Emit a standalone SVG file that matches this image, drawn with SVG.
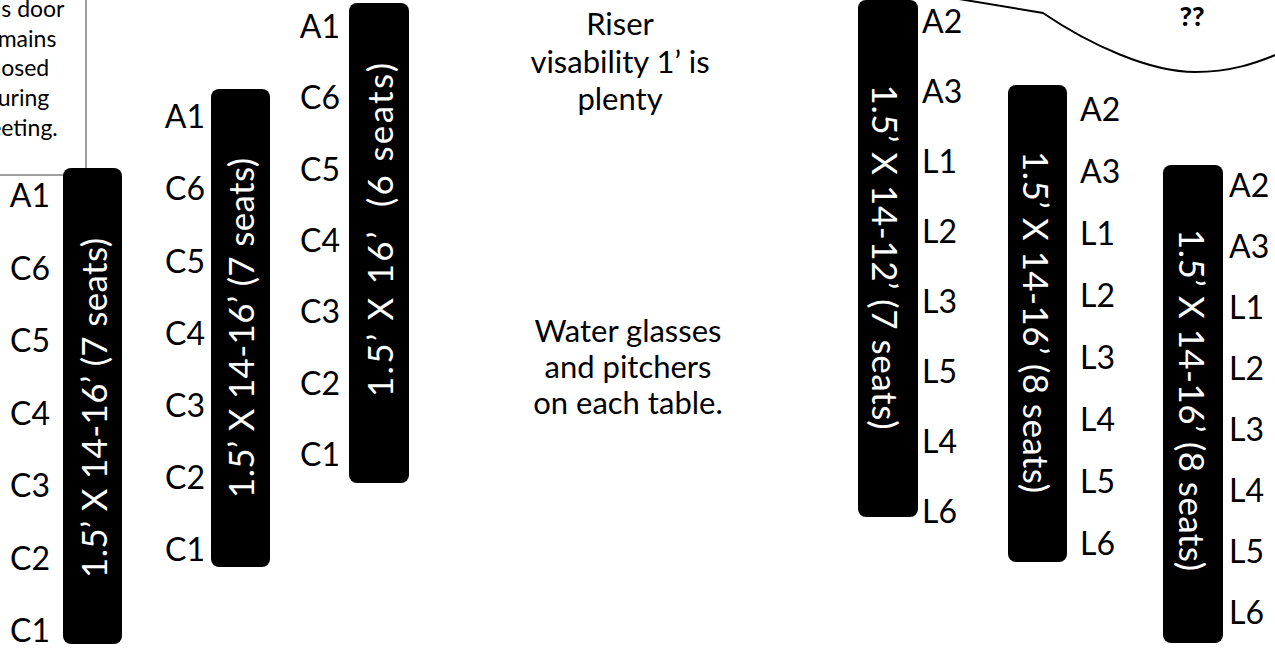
<svg xmlns="http://www.w3.org/2000/svg" width="1275" height="648" viewBox="0 0 1275 648">
<style>
.tbl{fill:#000}
.lbl{font-family:Lato,"Liberation Sans",sans-serif;font-size:32px;fill:#000}
.l{text-anchor:end}
.r{text-anchor:start}
.tt{font-family:Lato,"Liberation Sans",sans-serif;font-size:35px;fill:#fff;text-anchor:middle;dominant-baseline:central}
.note{font-family:Lato,"Liberation Sans",sans-serif;font-size:31px;fill:#000;text-anchor:middle}
.box{font-family:Lato,"Liberation Sans",sans-serif;font-size:23px;fill:#000;text-anchor:middle}
.q{font-family:Lato,"Liberation Sans",sans-serif;font-size:27px;font-weight:900;fill:#000;text-anchor:middle}
</style>
<rect width="1275" height="648" fill="#fff"/>
<g id="door-note">
<rect x="-10" y="-10" width="96" height="185" fill="#fff" stroke="#7f7f7f" stroke-width="1.5"/>
<text class="box" x="17" y="17">This door</text>
<text class="box" x="17" y="46.5">remains</text>
<text class="box" x="17" y="76">closed</text>
<text class="box" x="17" y="105.5">during</text>
<text class="box" x="14" y="136">meeting.</text>
</g>
<g id="callout">
<path d="M935,-5 L1043,13 C1090,45 1150,72 1195,72 C1230,72 1255,64 1285,51 L1285,-10 L935,-10 Z" fill="#fff" stroke="none"/>
<path d="M935,-5 L1043,13 C1090,45 1150,72 1195,72 C1230,72 1255,64 1285,51" fill="none" stroke="#000" stroke-width="2"/>
<text class="q" x="1192" y="26">??</text>
</g>
<g id="table1">
<rect class="tbl" x="63" y="168" width="59" height="476" rx="8"/>
<text class="tt" transform="translate(93 408) rotate(-90)" textLength="340">1.5’ X 14-16’ (7 seats)</text>
<text class="lbl l" x="50" y="207">A1</text>
<text class="lbl l" x="50" y="279.5">C6</text>
<text class="lbl l" x="50" y="352">C5</text>
<text class="lbl l" x="50" y="424.5">C4</text>
<text class="lbl l" x="50" y="497">C3</text>
<text class="lbl l" x="50" y="569.5">C2</text>
<text class="lbl l" x="50" y="642">C1</text>
</g>
<g id="table2">
<rect class="tbl" x="211" y="89" width="59" height="478" rx="8"/>
<text class="tt" transform="translate(240 328) rotate(-90)" textLength="340">1.5’ X 14-16’ (7 seats)</text>
<text class="lbl l" x="205" y="128">A1</text>
<text class="lbl l" x="205" y="200">C6</text>
<text class="lbl l" x="205" y="272.5">C5</text>
<text class="lbl l" x="205" y="344.5">C4</text>
<text class="lbl l" x="205" y="417">C3</text>
<text class="lbl l" x="205" y="489">C2</text>
<text class="lbl l" x="205" y="561">C1</text>
</g>
<g id="table3">
<rect class="tbl" x="349" y="3" width="60" height="480" rx="8"/>
<text class="tt" transform="translate(379 230) rotate(-90)" textLength="334" xml:space="preserve">1.5’ X 16’  (6 seats)</text>
<text class="lbl l" x="340" y="38">A1</text>
<text class="lbl l" x="340" y="109">C6</text>
<text class="lbl l" x="340" y="181">C5</text>
<text class="lbl l" x="340" y="252">C4</text>
<text class="lbl l" x="340" y="323">C3</text>
<text class="lbl l" x="340" y="394.5">C2</text>
<text class="lbl l" x="340" y="466">C1</text>
</g>
<g id="riser-note">
<text class="note" x="620" y="35">Riser</text>
<text class="note" x="620" y="73">visability 1’ is</text>
<text class="note" x="620" y="110">plenty</text>
</g>
<g id="water-note">
<text class="note" x="628" y="342">Water glasses</text>
<text class="note" x="628" y="378">and pitchers</text>
<text class="note" x="628" y="414">on each table.</text>
</g>
<g id="table4">
<rect class="tbl" x="858" y="0" width="60" height="517" rx="8"/>
<text class="tt" transform="translate(886 257) rotate(90)" textLength="345">1.5’ X 14-12’ (7 seats)</text>
<text class="lbl r" x="922" y="33">A2</text>
<text class="lbl r" x="922" y="103">A3</text>
<text class="lbl r" x="922" y="173">L1</text>
<text class="lbl r" x="922" y="243">L2</text>
<text class="lbl r" x="922" y="313">L3</text>
<text class="lbl r" x="922" y="383">L5</text>
<text class="lbl r" x="922" y="453">L4</text>
<text class="lbl r" x="922" y="523">L6</text>
</g>
<g id="table5">
<rect class="tbl" x="1008" y="85" width="59" height="477" rx="8"/>
<text class="tt" transform="translate(1037 322) rotate(90)" textLength="342">1.5’ X 14-16’ (8 seats)</text>
<text class="lbl r" x="1080" y="121">A2</text>
<text class="lbl r" x="1080" y="183">A3</text>
<text class="lbl r" x="1080" y="245">L1</text>
<text class="lbl r" x="1080" y="307">L2</text>
<text class="lbl r" x="1080" y="369">L3</text>
<text class="lbl r" x="1080" y="431">L4</text>
<text class="lbl r" x="1080" y="493">L5</text>
<text class="lbl r" x="1080" y="555">L6</text>
</g>
<g id="table6">
<rect class="tbl" x="1163" y="165" width="60" height="478" rx="8"/>
<text class="tt" transform="translate(1193 400) rotate(90)" textLength="342">1.5’ X 14-16’ (8 seats)</text>
<text class="lbl r" x="1229" y="197">A2</text>
<text class="lbl r" x="1229" y="258">A3</text>
<text class="lbl r" x="1229" y="319">L1</text>
<text class="lbl r" x="1229" y="380">L2</text>
<text class="lbl r" x="1229" y="441">L3</text>
<text class="lbl r" x="1229" y="502">L4</text>
<text class="lbl r" x="1229" y="563">L5</text>
<text class="lbl r" x="1229" y="624">L6</text>
</g>
<g id="connectors"></g>
</svg>
